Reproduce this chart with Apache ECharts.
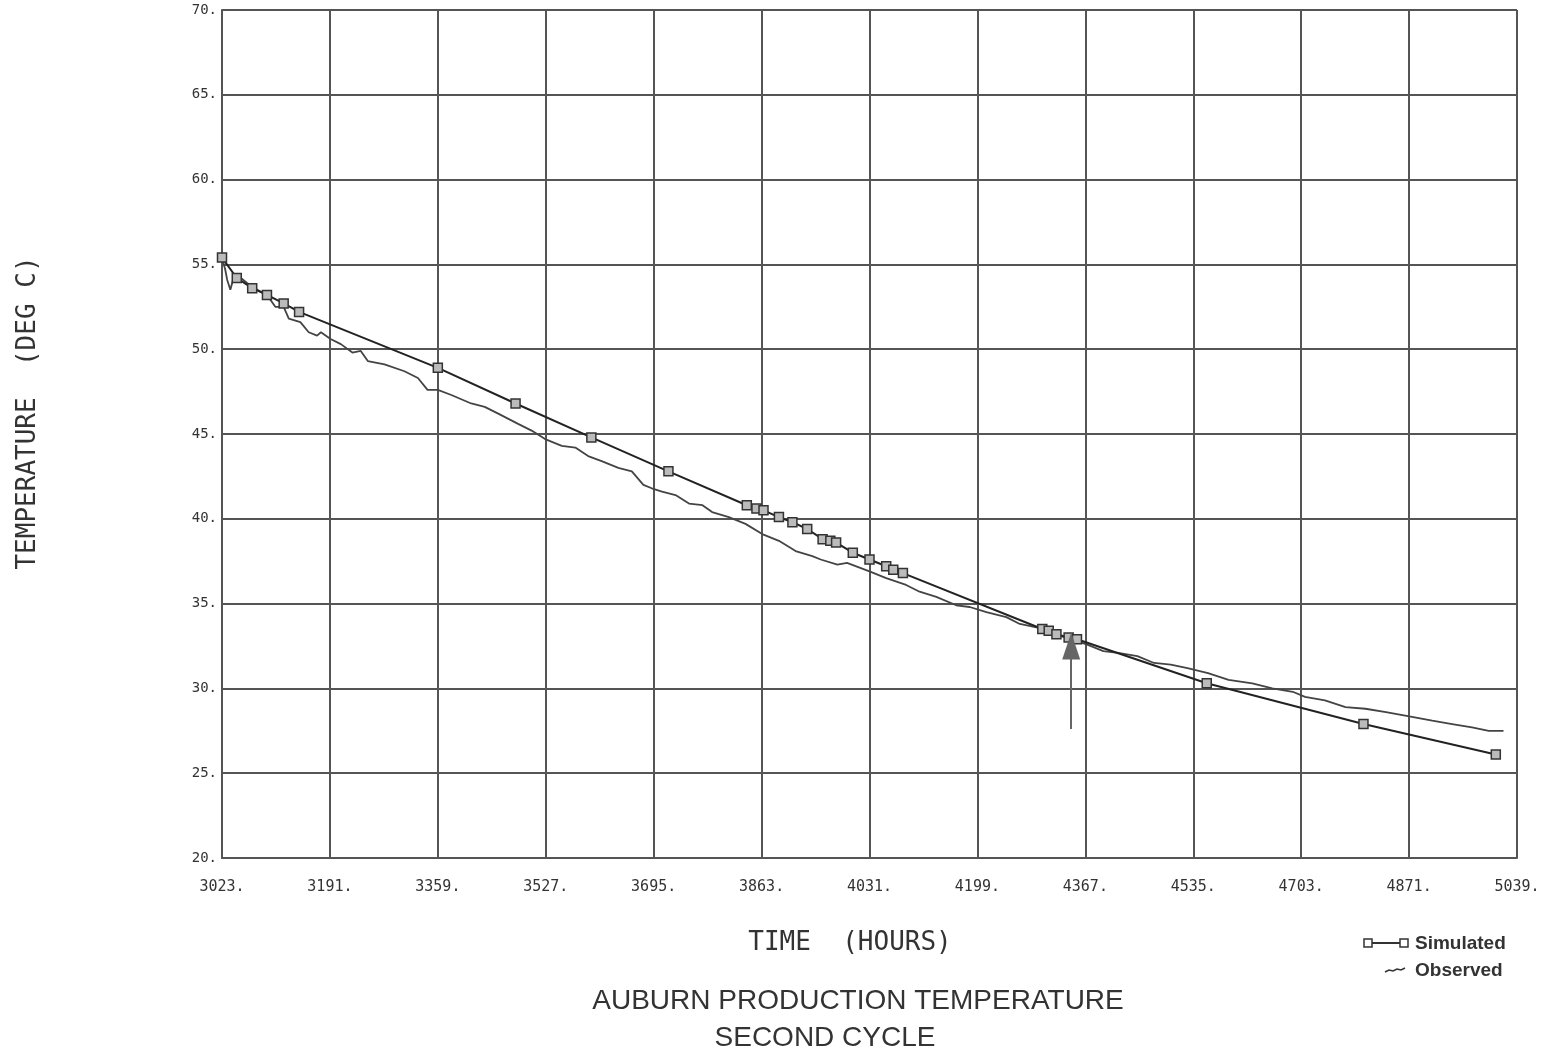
<!DOCTYPE html>
<html>
<head>
<meta charset="utf-8">
<script src="https://cdn.jsdelivr.net/npm/echarts@6/dist/echarts.min.js"></script>
<style>
html,body{margin:0;padding:0;background:#fff;}
#chart{width:1557px;height:1062px;}
</style>
</head>
<body>
<div id="chart"></div>
<script>
// X axis (hours) and Y axis (deg C) settings
const xMin = 3023, xMax = 5039, xStep = 168;
const yMin = 20, yMax = 70, yStep = 5;

// Simulated series: [hours, deg C]
const simulatedHours = [3023,3046,3070,3093,3119,3143,3359,3480,3598,3718,3840,3855,3866,3890,3911,3934,3958,3970,3979,4005,4031,4057,4068,4083,4300,4310,4322,4341,4354,4556,4800,5006];
const simulatedTemp  = [55.4,54.2,53.6,53.2,52.7,52.2,48.9,46.8,44.8,42.8,40.8,40.6,40.5,40.1,39.8,39.4,38.8,38.7,38.6,38.0,37.6,37.2,37.0,36.8,33.5,33.4,33.2,33.0,32.9,30.3,27.9,26.1];

// Observed series: [hours, deg C]
const observedHours = [3023,3028,3031,3036,3041,3049,3062,3078,3093,3106,3119,3127,3145,3158,3171,3177,3192,3208,3226,3239,3250,3276,3307,3328,3343,3359,3380,3411,3432,3453,3484,3505,3526,3552,3573,3593,3614,3640,3661,3679,3692,3708,3729,3750,3771,3786,3812,3838,3864,3890,3916,3942,3955,3981,3996,4031,4057,4088,4109,4135,4166,4187,4213,4244,4265,4291,4328,4369,4395,4418,4448,4474,4500,4526,4558,4590,4627,4658,4690,4709,4740,4772,4803,4835,4865,4907,4938,4969,4995,5018];
const observedTemp  = [55.4,54.7,54.1,53.5,54.2,54.3,53.9,53.5,53.2,52.5,52.5,51.8,51.6,51.0,50.8,51.0,50.6,50.3,49.8,49.9,49.3,49.1,48.7,48.3,47.6,47.6,47.3,46.8,46.6,46.2,45.6,45.2,44.7,44.3,44.2,43.7,43.4,43.0,42.8,42.0,41.8,41.6,41.4,40.9,40.8,40.4,40.1,39.7,39.1,38.7,38.1,37.8,37.6,37.3,37.4,36.9,36.5,36.1,35.7,35.4,34.9,34.8,34.5,34.2,33.8,33.6,33.1,32.6,32.2,32.1,31.9,31.5,31.4,31.2,30.9,30.5,30.3,30.0,29.8,29.5,29.3,28.9,28.8,28.6,28.4,28.1,27.9,27.7,27.5,27.5];

// Arrow annotation (hours, from temp, to temp)
const arrowHour = 4345, arrowFrom = 27.6, arrowTo = 32.5;

const chart = echarts.init(document.getElementById('chart'), null, {renderer: 'canvas'});
const gridColor = '#555';
const plotFont = 'DejaVu Sans Mono';

const option = {
  backgroundColor: '#fff',
  animation: false,
  grid: {left: 222, right: 40, top: 10, bottom: 204, containLabel: false},
  xAxis: {
    type: 'value', min: xMin, max: xMax, interval: xStep,
    axisLine: {show: true, lineStyle: {color: gridColor, width: 2}},
    axisTick: {show: false},
    splitLine: {show: true, lineStyle: {color: gridColor, width: 2}},
    axisLabel: {
      formatter: v => v + '.', margin: 22, showMinLabel: true, showMaxLabel: true,
      fontFamily: plotFont, fontSize: 15, color: '#333'
    }
  },
  yAxis: {
    type: 'value', min: yMin, max: yMax, interval: yStep,
    axisLine: {show: true, lineStyle: {color: gridColor, width: 2}},
    axisTick: {show: false},
    splitLine: {show: true, lineStyle: {color: gridColor, width: 2}},
    axisLabel: {
      formatter: v => v + '.', margin: 5,
      fontFamily: plotFont, fontSize: 14, color: '#333'
    }
  },
  graphic: [
    {type: 'text', rotation: Math.PI / 2, x: 28, y: 413,
     style: {text: 'TEMPERATURE  (DEG C)', x: 0, y: 0, textAlign: 'center', textVerticalAlign: 'middle', font: '26px "DejaVu Sans Mono"', fill: '#333'}},
    {type: 'text', style: {text: 'TIME  (HOURS)', x: 850, y: 943, textAlign: 'center', textVerticalAlign: 'middle', font: '26px "DejaVu Sans Mono"', fill: '#333'}},
    {type: 'text', style: {text: 'AUBURN PRODUCTION TEMPERATURE', x: 858, y: 1001, textAlign: 'center', textVerticalAlign: 'middle', font: '28px "Liberation Sans"', fill: '#333'}},
    {type: 'text', style: {text: 'SECOND CYCLE', x: 825, y: 1038, textAlign: 'center', textVerticalAlign: 'middle', font: '28px "Liberation Sans"', fill: '#333'}},
    // legend
    {type: 'line', shape: {x1: 1372, y1: 943, x2: 1400, y2: 943}, style: {stroke: '#333', lineWidth: 2}},
    {type: 'rect', shape: {x: 1364, y: 939, width: 8, height: 8}, style: {fill: '#fff', stroke: '#333', lineWidth: 1.5}},
    {type: 'rect', shape: {x: 1400, y: 939, width: 8, height: 8}, style: {fill: '#fff', stroke: '#333', lineWidth: 1.5}},
    {type: 'text', style: {text: 'Simulated', x: 1415, y: 944, textVerticalAlign: 'middle', font: 'bold 19px "Liberation Sans"', fill: '#333'}},
    {type: 'polyline', shape: {points: [[1385, 972], [1389, 970], [1393, 971], [1397, 969], [1401, 970], [1405, 968]]}, style: {stroke: '#333', lineWidth: 1.5, fill: null}},
    {type: 'text', style: {text: 'Observed', x: 1415, y: 971, textVerticalAlign: 'middle', font: 'bold 19px "Liberation Sans"', fill: '#333'}}
  ],
  series: [
    {
      name: 'Simulated', type: 'line',
      data: simulatedHours.map((h, i) => [h, simulatedTemp[i]]),
      symbol: 'rect', symbolSize: 9, showSymbol: true,
      lineStyle: {color: '#222', width: 2},
      itemStyle: {color: '#bbb', borderColor: '#333', borderWidth: 1.5},
      z: 3,
      markLine: {
        silent: true, animation: false,
        symbol: ['none', 'triangle'], symbolSize: [18, 27],
        label: {show: false},
        lineStyle: {color: '#666', width: 2, type: 'solid'},
        itemStyle: {color: '#777'},
        data: [[{coord: [arrowHour, arrowFrom]}, {coord: [arrowHour, arrowTo]}]]
      }
    },
    {
      name: 'Observed', type: 'line',
      data: observedHours.map((h, i) => [h, observedTemp[i]]),
      showSymbol: false, symbol: 'none',
      lineStyle: {color: '#444', width: 1.8},
      itemStyle: {color: '#444'},
      z: 2
    }
  ]
};
chart.setOption(option);
</script>
</body>
</html>
